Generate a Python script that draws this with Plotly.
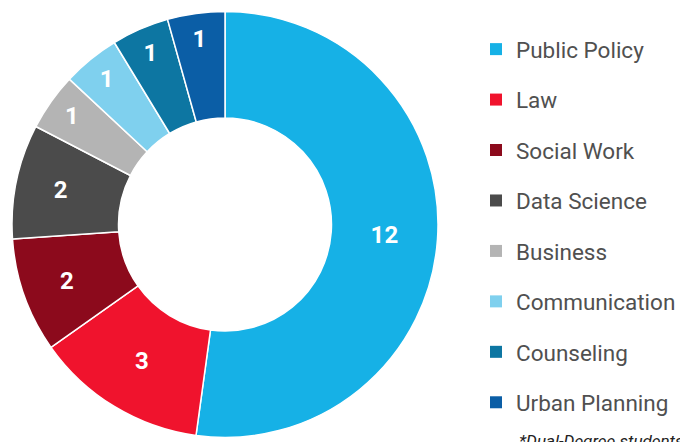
import plotly.graph_objects as go

labels = ["Public Policy", "Law", "Social Work", "Data Science", "Business",
          "Communication", "Counseling", "Urban Planning"]
values = [12, 3, 2, 2, 1, 1, 1, 1]
colors = ["#16b1e6", "#f0132d", "#8c0a1c", "#4b4b4b", "#b4b4b4",
          "#7fd0ee", "#0d76a2", "#0b5ea6"]
footnote = "*Dual-Degree students"

# the page body has an 8px margin, so the figure is sized/placed to compensate
OFF = 8
W, H = 688 - OFF, 442 - OFF
cx, cy, r = 225 - OFF, 224.5 - OFF, 213

fig = go.Figure()
fig.add_trace(go.Pie(
    labels=labels, values=values, sort=False, direction="clockwise", rotation=0,
    hole=0.50,
    marker=dict(colors=colors, line=dict(color="white", width=1.5)),
    textinfo="value", textposition="inside", insidetextorientation="horizontal",
    textfont=dict(family="Roboto", size=24, color="white", weight="bold"),
    showlegend=False, hoverinfo="label+value",
    domain=dict(x=[(cx - r) / W, (cx + r) / W],
                y=[(H - cy - r) / H, (H - cy + r) / H]),
))

for lab, col in zip(labels, colors):
    fig.add_trace(go.Scatter(
        x=[None], y=[None], mode="markers", name=lab, legendgroup=lab,
        marker=dict(symbol="square", size=12, color=col),
        showlegend=True,
    ))

fig.update_layout(
    width=W, height=H, margin=dict(l=0, r=0, t=0, b=0),
    paper_bgcolor="white", plot_bgcolor="white",
    xaxis=dict(visible=False), yaxis=dict(visible=False),
    legend=dict(x=(517 - OFF - 41) / W, y=1 - (28 - OFF) / H, xanchor="left", yanchor="top",
                font=dict(family="Roboto", size=22.5, color="#505050"),
                tracegroupgap=18.2, itemclick=False),
    annotations=[dict(text=footnote, x=(517 - OFF) / W, y=1 - (429 - OFF) / H,
                      xref="paper", yref="paper",
                      xanchor="left", yanchor="top", showarrow=False,
                      font=dict(family="Roboto", size=17, color="#222", style="italic"))],
)

fig.write_html("out.html")
